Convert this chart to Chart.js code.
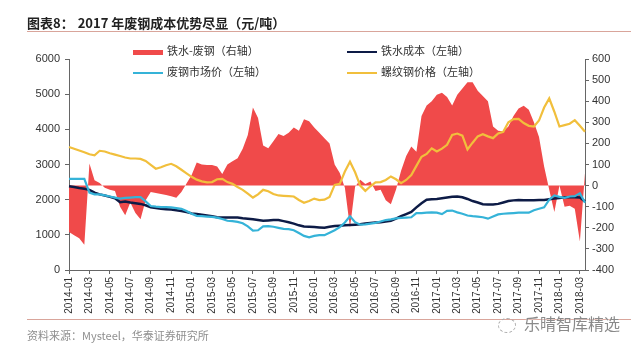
<!DOCTYPE html>
<html>
<head>
<meta charset="utf-8">
<script src="https://cdn.jsdelivr.net/npm/chart.js@4"></script>
<style>
  body { margin: 0; background: #fff; }
  #wrap { position: relative; width: 640px; height: 350px; font-family: "Noto Sans CJK SC", "Noto Sans", sans-serif; color: #333; }
  #chart { position: absolute; left: 0; top: 0; }
  .title { position: absolute; left: 27px; top: 13px; font-size: 13px; font-weight: bold; color: #222; white-space: nowrap; }
  .title span { margin-left: 4px; }
  .rule { position: absolute; left: 27px; width: 604px; height: 0; border-top: 1.5px solid #d9a59b; }
  .legend { position: absolute; font-size: 11px; white-space: nowrap; color: #333; }
  .legend i { display: inline-block; width: 30px; vertical-align: middle; margin-right: 4px; }
  .source { position: absolute; left: 27px; top: 327px; font-size: 11px; color: #8f8f8f; white-space: nowrap; }
  .mark { position: absolute; left: 498px; top: 311px; font-size: 16px; color: #8a8a8a; white-space: nowrap; text-shadow: 0 0 2px #fff; }
  .mark b { display: inline-block; width: 16px; height: 13px; border: 1.5px dashed #aaa; border-radius: 50%; vertical-align: middle; margin-right: 8px; }
</style>
</head>
<body>
<div id="wrap">
  <canvas id="chart" width="640" height="350"></canvas>
  <div class="title">图表8：<span>2017 年废钢成本优势尽显（元/吨）</span></div>
  <div class="rule" style="top:31px"></div>
  <div class="legend" style="left:133px; top:42px"><i style="height:5px; background:#f04a4a"></i>铁水-废钢（右轴）</div>
  <div class="legend" style="left:347px; top:42px"><i style="height:0; border-top:2.5px solid #0d1b46"></i>铁水成本（左轴）</div>
  <div class="legend" style="left:133px; top:63px"><i style="height:0; border-top:2.5px solid #35b3d8"></i>废钢市场价（左轴）</div>
  <div class="legend" style="left:347px; top:63px"><i style="height:0; border-top:2.5px solid #f1bf3c"></i>螺纹钢价格（左轴）</div>
  <div class="rule" style="top:319px"></div>
  <div class="source">资料来源：Mysteel，华泰证券研究所</div>
  <div class="mark"><b></b>乐晴智库精选</div>
</div>
<script>
const tickLabels = ['2014-01','2014-03','2014-05','2014-07','2014-09','2014-11',
  '2015-01','2015-03','2015-05','2015-07','2015-09','2015-11',
  '2016-01','2016-03','2016-05','2016-07','2016-09','2016-11',
  '2017-01','2017-03','2017-05','2017-07','2017-09','2017-11',
  '2018-01','2018-03']

// half-month points, 铁水-废钢 (right axis)
const ironMinusScrap = [-220,-235,-250,-280,105,25,12,-10,-20,-25,
  -100,-140,-80,-130,-160,-70,-30,-35,-40,-45,
  -50,-58,-30,10,50,110,100,98,98,90,
  55,100,115,130,175,240,370,320,190,177,
  210,245,235,250,275,260,315,305,275,250,
  225,200,100,60,-10,-200,-5,28,8,20,
  -25,-20,-70,-88,-20,70,140,185,160,330,
  380,400,430,440,420,380,430,460,490,490,
  450,425,400,280,260,258,280,330,365,378,
  360,300,230,90,-20,-125,0,-100,-95,-110,
  -265,60]

const ironCost = [2380,2360,2330,2310,2280,2200,2150,2120,2080,2040,
  1930,1950,1920,1900,1880,1840,1780,1760,1740,1730,
  1720,1700,1680,1650,1610,1590,1570,1550,1530,1500,
  1490,1490,1490,1490,1470,1460,1440,1420,1400,1410,
  1420,1420,1390,1360,1320,1270,1240,1230,1220,1210,
  1200,1230,1250,1260,1270,1280,1290,1300,1320,1340,
  1350,1360,1380,1400,1460,1530,1590,1650,1780,1900,
  2000,2010,2020,2040,2060,2080,2090,2070,2020,1960,
  1920,1870,1860,1860,1880,1920,1960,1980,1990,1985,
  1985,1985,1990,1990,2010,2030,2050,2070,2070,2070,
  2060,1950]

const scrapPrice = [2590,2590,2590,2590,2200,2150,2150,2120,2090,2060,
  2030,2050,2060,2070,2070,1950,1820,1800,1790,1790,
  1780,1760,1740,1680,1600,1540,1530,1520,1510,1490,
  1450,1400,1390,1370,1330,1240,1120,1130,1240,1250,
  1230,1200,1170,1160,1130,1050,970,930,970,990,
  990,1060,1130,1220,1350,1530,1360,1290,1300,1320,
  1340,1380,1420,1440,1470,1480,1490,1500,1620,1620,
  1630,1640,1630,1590,1680,1690,1640,1600,1550,1530,
  1520,1500,1460,1520,1580,1600,1610,1620,1630,1630,
  1630,1700,1740,1780,2000,2120,2080,2050,2090,2100,
  2180,1910]

const rebarPrice = [3500,3450,3400,3350,3290,3260,3390,3370,3320,3280,
  3240,3200,3170,3170,3160,3100,2990,2880,2920,2980,
  3020,2950,2850,2750,2650,2570,2520,2490,2500,2580,
  2590,2500,2450,2360,2280,2170,2060,2150,2280,2240,
  2160,2120,2110,2100,2090,1990,1910,1960,2030,1990,
  2000,2080,2420,2450,2800,3080,2780,2400,2250,2380,
  2490,2500,2560,2660,2580,2470,2560,2700,2960,3220,
  3300,3460,3370,3450,3560,3840,3880,3820,3430,3620,
  3800,3860,3800,3750,3880,3930,4200,4290,4300,4180,
  4100,4080,4250,4620,4880,4500,4080,4120,4160,4260,
  4100,3930]

const categories = []
tickLabels.forEach(t => categories.push(t, '', '', ''))
categories.length = ironCost.length

const axisColor = '#666'
const tickFont = { family: 'Liberation Sans, Arial, sans-serif', size: 11 }

new Chart(document.getElementById('chart'), {
  type: 'line',
  data: {
    labels: categories,
    datasets: [
      { label: '螺纹钢价格（左轴）', data: rebarPrice, yAxisID: 'y', borderColor: '#f1bf3c', borderWidth: 2.2, order: 0 },
      { label: '废钢市场价（左轴）', data: scrapPrice, yAxisID: 'y', borderColor: '#35b3d8', borderWidth: 2.2, order: 1 },
      { label: '铁水成本（左轴）', data: ironCost, yAxisID: 'y', borderColor: '#0d1b46', borderWidth: 2.5, order: 2 },
      { label: '铁水-废钢（右轴）', data: ironMinusScrap, yAxisID: 'y1', borderWidth: 0, borderColor: 'rgba(0,0,0,0)',
        backgroundColor: '#f04a4a', fill: 'origin', order: 3 }
    ]
  },
  options: {
    responsive: false,
    animation: false,
    devicePixelRatio: 1,
    layout: { padding: { top: 59, left: 24, right: 0, bottom: 0 } },
    elements: { point: { radius: 0 }, line: { tension: 0 } },
    plugins: { legend: { display: false }, tooltip: { enabled: false } },
    scales: {
      x: {
        grid: { drawOnChartArea: false, tickLength: 4, color: axisColor,
          tickColor: ctx => (ctx.tick && ctx.tick.label) ? axisColor : 'rgba(0,0,0,0)' },
        border: { color: axisColor },
        ticks: {
          autoSkip: false, minRotation: 90, maxRotation: 90, padding: 3,
          color: '#333', font: { family: tickFont.family, size: 10 },
          callback: (v, i) => categories[i] || null
        },
        afterFit: s => { s.height = 80 }
      },
      y: {
        position: 'left', min: 0, max: 6000,
        grid: { drawOnChartArea: false, tickLength: 4, color: axisColor },
        border: { color: axisColor },
        ticks: { stepSize: 1000, padding: 5, color: '#333', font: tickFont, callback: v => String(v) },
        afterFit: s => { s.width = 45 }
      },
      y1: {
        position: 'right', min: -400, max: 600,
        grid: { drawOnChartArea: false, tickLength: 4, color: axisColor },
        border: { color: axisColor },
        ticks: { stepSize: 100, padding: 3, color: '#333', font: tickFont, callback: v => String(v) },
        afterFit: s => { s.width = 55 }
      }
    }
  }
})
</script>
</body>
</html>
